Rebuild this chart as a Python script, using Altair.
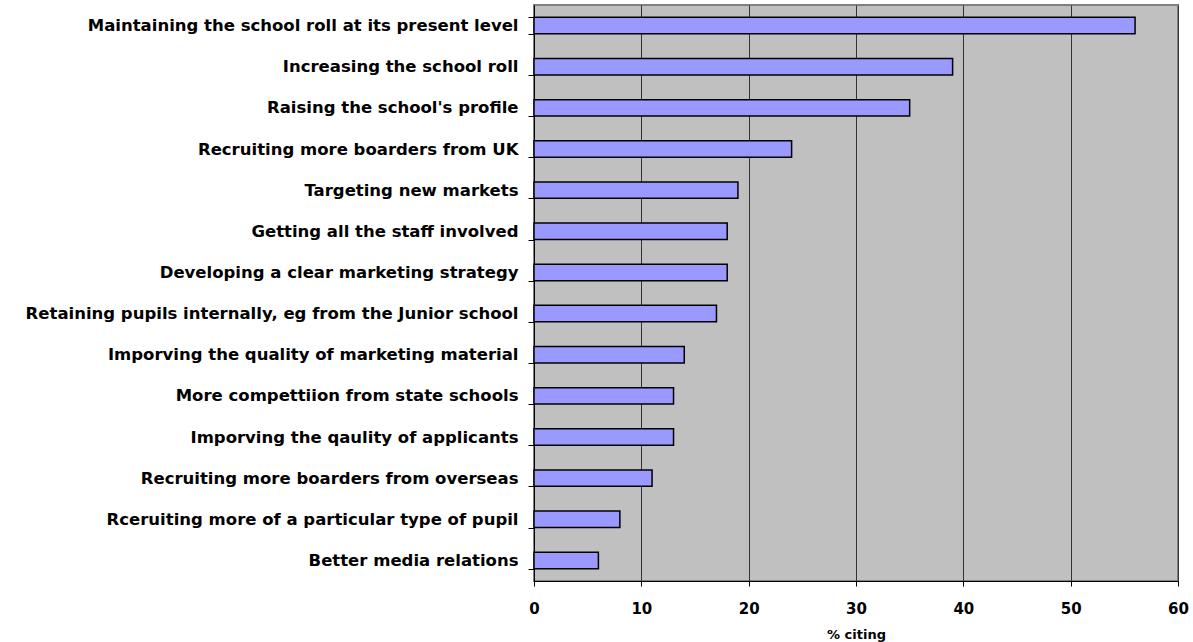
import altair as alt
import pandas as pd

categories = [
    "Maintaining the school roll at its present level",
    "Increasing the school roll",
    "Raising the school's profile",
    "Recruiting more boarders from UK",
    "Targeting new markets",
    "Getting all the staff involved",
    "Developing a clear marketing strategy",
    "Retaining pupils internally, eg from the Junior school",
    "Imporving the quality of marketing material",
    "More compettiion from state schools",
    "Imporving the qaulity of applicants",
    "Recruiting more boarders from overseas",
    "Rceruiting more of a particular type of pupil",
    "Better media relations",
]
values = [56, 39, 35, 24, 19, 18, 18, 17, 14, 13, 13, 11, 8, 6]
x_ticks = [0, 10, 20, 30, 40, 50, 60]

df = pd.DataFrame({"item": categories, "pct": values})

chart = alt.Chart(df).mark_bar(
    color="#9999FF", stroke="#000000", strokeWidth=1.5
).encode(
    x=alt.X("pct:Q", title="% citing",
            scale=alt.Scale(domain=[0, 60], nice=False),
            axis=alt.Axis(values=x_ticks, grid=True, gridColor="#333333", gridWidth=1,
                          domainColor="#000000", tickColor="#000000", tickSize=5,
                          labelFlush=False,
                          labelFont="DejaVu Sans", labelFontSize=15, labelFontWeight="bold",
                          labelColor="#000000", labelPadding=15,
                          titleFont="DejaVu Sans", titleFontSize=13, titleFontWeight="bold",
                          titleColor="#000000", titlePadding=12)),
    y=alt.Y("item:N", title=None, sort=categories,
            scale=alt.Scale(paddingInner=0.6, paddingOuter=0.3),
            axis=alt.Axis(tickBand="extent", grid=False, domainColor="#000000",
                          tickColor="#000000", tickSize=6,
                          labelFont="DejaVu Sans", labelFontSize=16.5, labelFontWeight="bold",
                          labelColor="#000000", labelPadding=10, labelLimit=700)),
).properties(
    width=644, height=576,
    autosize=alt.AutoSizeParams(type="none"),
    padding={"left": 534, "top": 5, "right": 15, "bottom": 61},
    background="#FFFFFF",
).configure_view(
    fill="#C0C0C0", stroke="#808080", strokeWidth=2
)

chart.save("out.html", embed_options={"renderer": "svg", "actions": False})
